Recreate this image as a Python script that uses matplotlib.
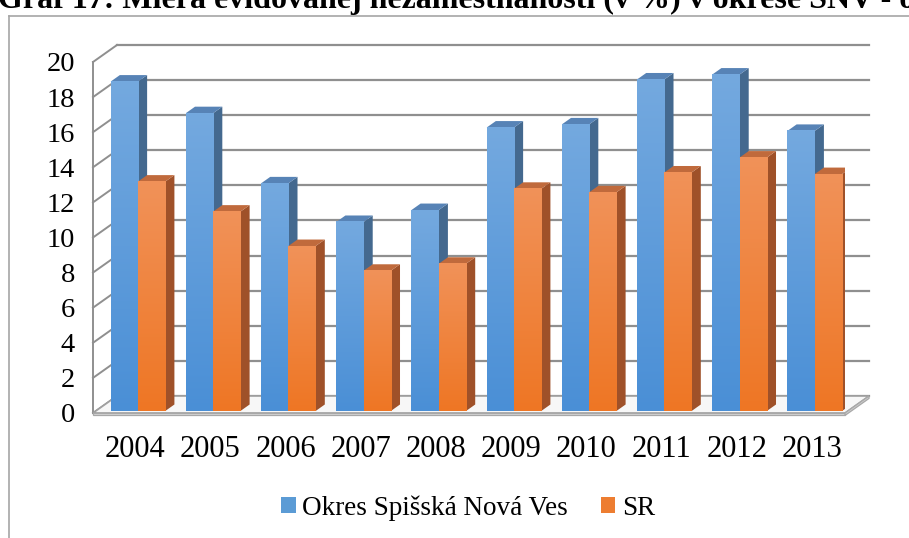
import numpy as np
import matplotlib.pyplot as plt
from matplotlib.patches import Polygon, Patch
from matplotlib.colors import LinearSegmentedColormap
from matplotlib.lines import Line2D

# data
years = ['2004', '2005', '2006', '2007', '2008', '2009', '2010', '2011', '2012', '2013']
snv = [18.77, 16.97, 12.97, 10.77, 11.45, 16.15, 16.33, 18.89, 19.17, 15.96]
sr = [13.07, 11.36, 9.40, 7.99, 8.39, 12.66, 12.46, 13.59, 14.44, 13.50]
series_names = ['Okres Spišská Nová Ves', 'SR']
y_ticks = list(range(0, 21, 2))
title = 'Graf 17: Miera evidovanej nezamestnanosti (v %) v okrese SNV - obdobie 2004 - 2013'

W, H = 909, 538
plt.rcParams['font.family'] = ['Liberation Serif', 'DejaVu Serif']

# colours: front gradient (bottom, top), top face, side face
styles = [
    {'front': ('#4a8fd6', '#74a9df'), 'top': '#5783b6', 'side': '#44698f', 'legend': '#5b9bd5'},
    {'front': ('#ee7624', '#f19259'), 'top': '#c06a3c', 'side': '#9f5129', 'legend': '#ed7d31'},
]

fig = plt.figure(figsize=(W / 100, H / 100), dpi=100)

# front plane of the 3D box, in pixels
ax = fig.add_axes([93 / W, 1 - 413 / H, (845 - 93) / W, (413 - 62) / H])
x_left, x_right = -0.56, 9.44
ax.set_xlim(x_left, x_right)
ax.set_ylim(0, 20)

# depth vector (front -> back wall) in data units
dx, dy = 24 / 75.2, 17 / 17.55
grid_col = '#8f8f8f'

# back wall + left wall grid lines
for t in y_ticks:
    ax.add_line(Line2D([x_left + dx, x_right + dx], [t + dy, t + dy], color=grid_col, lw=1.6,
                       clip_on=False, zorder=1))
    ax.add_line(Line2D([x_left, x_left + dx], [t, t + dy], color=grid_col, lw=1.4,
                       clip_on=False, zorder=1))
ax.add_line(Line2D([x_left, x_left], [0, 20], color=grid_col, lw=1.4, clip_on=False, zorder=1))

# floor slab
slab = 0.14
floor = Polygon([(x_left, 0), (x_right, 0), (x_right + dx, dy), (x_left + dx, dy)],
                closed=True, facecolor='#f7f7f7', edgecolor='#a0a0a0', lw=1.2, clip_on=False, zorder=2)
ax.add_patch(floor)
ax.add_patch(Polygon([(x_left, 0), (x_right, 0), (x_right, -slab), (x_left, -slab)],
                     closed=True, facecolor='#dadada', edgecolor='#a8a8a8', lw=0.9, clip_on=False, zorder=2))
ax.add_patch(Polygon([(x_right, 0), (x_right + dx, dy), (x_right + dx, dy - slab), (x_right, -slab)],
                     closed=True, facecolor='#cfcfcf', edgecolor='#a8a8a8', lw=0.9, clip_on=False, zorder=2))

# bars
w = 0.363      # bar width (category units)
f = 0.12       # depth position of bar front face
b = 0.38       # bar depth
grad = np.linspace(0, 1, 256).reshape(-1, 1)
z = 3
for i in range(len(years)):
    for k, vals in enumerate([snv, sr]):
        st = styles[k]
        v = vals[i]
        x0 = i - w + k * w + f * dx
        x1 = x0 + w
        y0 = f * dy
        y1 = y0 + v
        side = Polygon([(x1, y0), (x1 + b * dx, y0 + b * dy), (x1 + b * dx, y1 + b * dy), (x1, y1)],
                       closed=True, facecolor=st['side'], edgecolor='none', zorder=z)
        top = Polygon([(x0, y1), (x1, y1), (x1 + b * dx, y1 + b * dy), (x0 + b * dx, y1 + b * dy)],
                      closed=True, facecolor=st['top'], edgecolor='none', zorder=z)
        ax.add_patch(side)
        ax.add_patch(top)
        cmap = LinearSegmentedColormap.from_list('g%d' % k, list(st['front']))
        ax.imshow(grad, cmap=cmap, origin='lower', extent=[x0, x1, y0, y1],
                  aspect='auto', interpolation='bilinear', zorder=z + 0.5)
        z += 1

ax.set_xlim(x_left, x_right)
ax.set_ylim(0, 20)

for s in ax.spines.values():
    s.set_visible(False)
ax.set_yticks(y_ticks)
ax.set_yticklabels([str(t) for t in y_ticks], fontsize=20.5)
ax.set_xticks(range(len(years)))
ax.set_xticklabels(years, fontsize=22)
ax.tick_params(axis='y', length=0, pad=13)
ax.tick_params(axis='x', length=0, pad=16)
ax.patch.set_visible(False)

# legend
handles = [Patch(facecolor=st['legend'], edgecolor='none') for st in styles]
fig.legend(handles, series_names, loc='center', bbox_to_anchor=(468 / W, 1 - 508 / H), ncol=2,
           frameon=False, fontsize=19.5, handlelength=0.55, handleheight=0.55,
           handletextpad=0.25, columnspacing=1.2)

# outer chart border (cut off at right and bottom)
fig.add_artist(Line2D([9 / W, 9 / W], [1 - 16 / H, 0], transform=fig.transFigure, color='#a6a6a6', lw=1.2))
fig.add_artist(Line2D([9 / W, 1], [1 - 16 / H, 1 - 16 / H], transform=fig.transFigure, color='#a6a6a6', lw=1.2))

# title, partly outside the picture (as in the source)
fig.text(-2 / W, 1 - 8 / H, title, fontsize=23, fontweight='bold', ha='left', va='baseline')

fig.savefig('out.png', dpi=100)
